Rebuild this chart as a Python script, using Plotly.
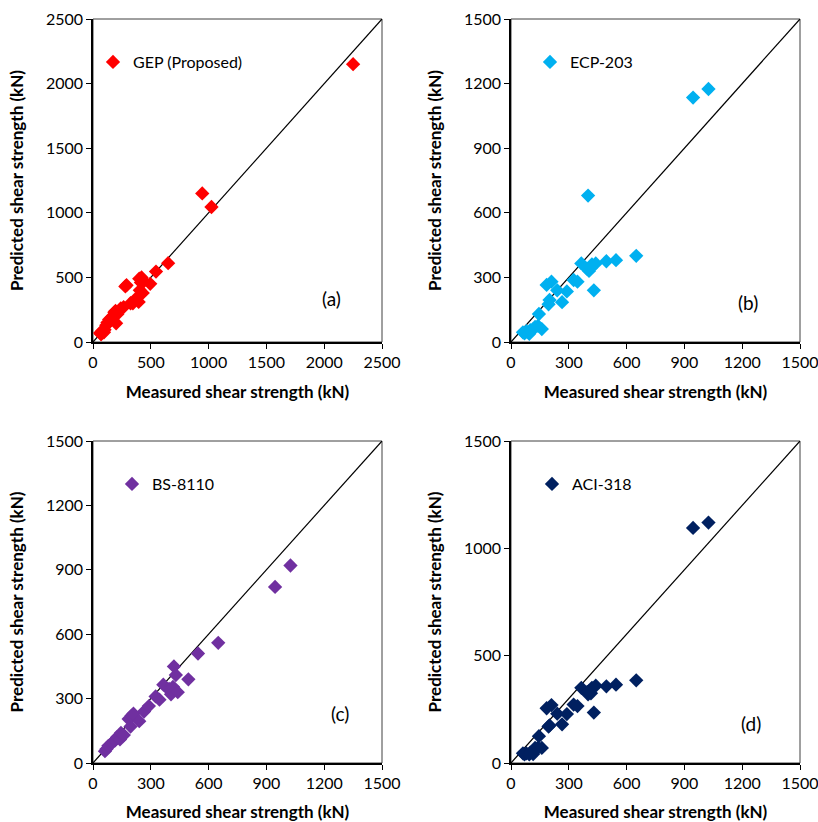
import plotly.graph_objects as go

# ---------------- data ----------------
gep_measured = [62, 70, 80, 95, 100, 115, 125, 140, 145, 160, 185, 195, 200, 210, 240, 265,
                280, 290, 325, 345, 365, 395, 400, 405, 415, 420, 430, 440, 495, 545, 650,
                945, 1025, 2250]
gep_predicted = [70, 60, 85, 75, 95, 130, 150, 175, 160, 190, 230, 240, 145, 215, 260, 270,
                 430, 440, 300, 300, 330, 310, 490, 400, 460, 500, 380, 470, 450, 545, 610,
                 1150, 1045, 2150]

measured = [62, 70, 80, 95, 100, 115, 125, 140, 145, 160, 185, 195, 200, 210, 240, 265,
            290, 325, 345, 365, 395, 400, 405, 415, 420, 430, 440, 495, 545, 650, 945, 1025]
ecp_predicted = [45, 40, 50, 38, 55, 60, 70, 75, 130, 60, 265, 175, 195, 280, 240, 185,
                 235, 288, 280, 365, 340, 680, 330, 345, 360, 240, 365, 375, 380, 400, 1135, 1175]
bs_predicted = [55, 65, 80, 90, 95, 105, 120, 110, 140, 130, 205, 170, 220, 230, 195, 240,
                265, 310, 295, 365, 345, 335, 320, 355, 450, 410, 330, 390, 510, 560, 820, 920]
aci_predicted = [45, 40, 45, 40, 48, 42, 70, 72, 125, 70, 255, 170, 175, 270, 230, 180,
                 228, 272, 265, 350, 330, 320, 335, 325, 350, 235, 360, 357, 365, 385, 1095, 1120]

series_names = ["GEP (Proposed)", "ECP-203", "BS-8110", "ACI-318"]
series_colors = ["#FF0000", "#00B0F0", "#7030A0", "#002060"]
panel_labels = ["(a)", "(b)", "(c)", "(d)"]
axis_max = [2500, 1500, 1500, 1500]
x_step = [500, 300, 300, 300]
y_step = [500, 300, 300, 500]

xs = [gep_measured, measured, measured, measured]
ys = [gep_predicted, ecp_predicted, bs_predicted, aci_predicted]

# ---------------- layout geometry ----------------
W, H = 818, 822
FONT = "Lato"
x_dom = [[93 / W, 382 / W], [511 / W, 800 / W], [93 / W, 382 / W], [511 / W, 800 / W]]
y_dom = [[1 - 342 / H, 1 - 19 / H], [1 - 342 / H, 1 - 19 / H],
         [1 - 763 / H, 1 - 441 / H], [1 - 763 / H, 1 - 441 / H]]
legend_pos = [(93, 62), (530, 62), (112, 484), (532, 484)]
label_pos = [(331, 298), (760, 302), (340, 727), (763, 737)]

fig = go.Figure()
layout = dict(
    width=W, height=H,
    margin=dict(l=0, r=0, t=0, b=0, autoexpand=False),
    paper_bgcolor="white", plot_bgcolor="white",
    font=dict(family=FONT, size=16, color="#000000"),
    annotations=[], shapes=[],
)

for i in range(4):
    n = "" if i == 0 else str(i + 1)
    xa, ya = "x" + n, "y" + n
    lg = "legend" + n
    fig.add_trace(go.Scatter(
        x=[0, axis_max[i]], y=[0, axis_max[i]], mode="lines",
        line=dict(color="black", width=1.2), xaxis=xa, yaxis=ya,
        showlegend=False, hoverinfo="skip"))
    fig.add_trace(go.Scatter(
        x=xs[i], y=ys[i], mode="markers", name=series_names[i],
        marker=dict(symbol="diamond", size=11, color=series_colors[i]),
        xaxis=xa, yaxis=ya, legend=lg))

    common = dict(range=[0, axis_max[i]], tick0=0,
                  showgrid=False, zeroline=False, showline=True, linecolor="black",
                  linewidth=1.5, ticks="outside", ticklen=5, tickcolor="black",
                  tickfont=dict(family=FONT, size=16), fixedrange=True, automargin=False,
                  ticklabeloverflow="allow")
    layout["xaxis" + n] = dict(common, domain=x_dom[i], anchor=ya, dtick=x_step[i],
                               title=dict(text="<b>Measured shear strength (kN)</b>",
                                          font=dict(family=FONT, size=17), standoff=16))
    layout["yaxis" + n] = dict(common, domain=y_dom[i], anchor=xa, dtick=y_step[i],
                               title=dict(text="<b>Predicted shear strength (kN)</b>",
                                          font=dict(family=FONT, size=17), standoff=18))
    layout["shapes"].append(dict(type="rect", xref=xa + " domain", yref=ya + " domain",
                                 x0=0, x1=1, y0=0, y1=1, line=dict(color="#404040", width=1),
                                 layer="below"))
    lx, ly = legend_pos[i]
    layout[lg] = dict(x=lx / W, y=1 - ly / H, xanchor="left", yanchor="middle",
                      bgcolor="rgba(0,0,0,0)", font=dict(family=FONT, size=16),
                      itemclick=False, itemdoubleclick=False)
    px_, py_ = label_pos[i]
    layout["annotations"].append(dict(text=panel_labels[i], x=px_ / W, y=1 - py_ / H,
                                      xref="paper", yref="paper", showarrow=False,
                                      font=dict(family=FONT, size=19)))

fig.update_layout(**layout)
fig.write_html("out.html", config={"displayModeBar": False},
               post_script="document.body.style.margin='0';document.body.style.overflow='hidden';")
